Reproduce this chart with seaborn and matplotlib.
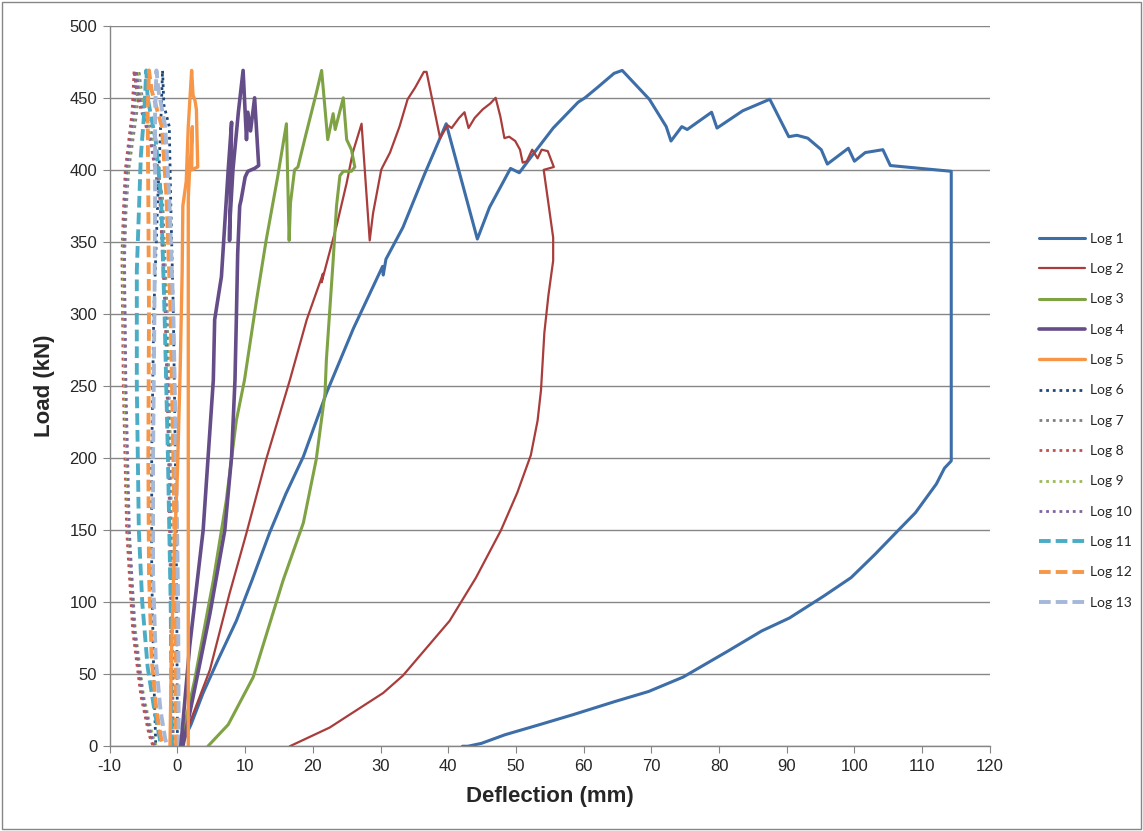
import pandas as pd
import seaborn as sns
import matplotlib.pyplot as plt
from matplotlib.patches import Rectangle
plt.switch_backend('agg')

# deflection (mm) / load (kN)
log1_x = [0.5, 2.0, 3.8, 6.0, 8.7, 11.0, 13.6, 16.0, 18.6, 22.0, 26.0, 30.3, 30.4, 30.8, 33.3, 36.5, 39.7,
          44.3, 46.1, 49.2, 50.5, 52.4, 55.5, 59.2, 60.2, 62.0, 64.5, 65.7, 69.7, 72.2, 72.9, 74.5, 75.3,
          78.9, 79.7, 83.5, 87.5, 90.3, 91.5, 93.1, 95.1, 96.0, 99.1, 100.0, 101.6, 104.2, 105.3, 114.3,
          114.3, 113.3, 112.1, 109.0, 106.3, 103.0, 99.5, 95.4, 90.4, 86.3, 81.3, 74.7, 69.6, 64.6, 58.5,
          53.5, 48.4, 44.9, 42.9, 42.1]
log1_y = [0, 15, 37, 60, 87, 115, 148, 175, 201, 245, 290, 333, 327, 338, 360, 397, 432,
          352, 374, 401, 398, 410, 429, 447, 450, 457, 467, 469, 449, 430, 420, 430, 428,
          440, 429, 441, 449, 423, 424, 422, 414, 404, 415, 406, 412, 414, 403, 399,
          198, 193, 182, 162, 149, 133, 117, 104, 89, 80, 66, 48, 38, 31, 22,
          15, 8, 2, 0, 0]

log2_x = [0.6, 1.8, 4.8, 7.7, 10.2, 13.1, 16.6, 19.1, 21.5, 21.3, 23.5, 25.0, 25.9, 27.2, 28.4, 28.9,
          30.1, 30.3, 31.4, 32.8, 34.0, 35.1, 36.4, 36.8, 38.8, 39.9, 40.5, 41.6, 42.4, 43.0, 43.9, 45.1,
          46.2, 47.0, 47.7, 48.3, 49.0, 49.9, 50.6, 51.0, 51.6, 52.4, 53.2, 53.8, 54.7, 55.6, 54.1,
          54.7, 55.5, 55.5, 54.8, 54.2, 53.7, 53.2, 52.2, 50.2, 47.8, 44.1, 40.2, 33.3, 30.4, 22.5, 16.6]
log2_y = [0, 16, 53, 106, 148, 199, 254, 296, 328, 322, 361, 391, 412, 432, 351, 370,
          400, 402, 412, 430, 449, 457, 468, 468, 422, 431, 429, 436, 440, 429, 436, 442,
          446, 450, 437, 422, 423, 420, 414, 405, 406, 414, 408, 414, 413, 402, 400,
          380, 353, 337, 313, 287, 247, 226, 202, 176, 150, 117, 87, 49, 37, 13, 0]

log3_x = [0.7, 2.5, 5.3, 7.2, 8.7, 9.9, 11.7, 13.1, 14.8, 16.1, 16.5, 16.7, 17.3, 17.8, 19.0, 20.5,
          21.3, 22.2, 23.0, 23.3, 24.5, 25.0, 25.7, 26.2, 25.7, 24.5, 24.0, 23.5, 23.0, 22.0, 21.8,
          20.5, 18.6, 15.6, 11.2, 7.5, 4.5]
log3_y = [7, 45, 115, 170, 226, 254, 310, 351, 395, 432, 351, 377, 400, 402, 425, 453,
          469, 421, 439, 428, 450, 421, 414, 402, 399, 399, 396, 375, 337, 268, 245,
          199, 155, 115, 48, 15, 0]

log4_x = [0.5, 1.8, 3.8, 5.3, 5.5, 6.5, 7.5, 8.0, 7.7, 7.7, 8.2, 9.0, 9.7, 10.2, 10.4, 10.8, 11.4,
          12.0, 11.4, 10.4, 10.0, 9.4, 9.2, 8.9, 8.7, 8.5, 8.0, 7.0, 4.8, 2.3, 0.8]
log4_y = [0, 69, 150, 254, 296, 326, 400, 433, 351, 360, 400, 440, 469, 421, 440, 427, 450,
          403, 401, 399, 395, 379, 375, 342, 296, 254, 201, 150, 92, 34, 0]

log5_x = [-1.1, -0.9, -0.5, 0.0, 0.4, 0.7, 0.8, 1.3, 1.6, 2.1, 2.3, 2.6, 2.8, 3.0, 2.1, 2.2, 2.0,
          1.8, 1.6, 1.6, 1.6, 1.6]
log5_y = [0, 60, 130, 190, 260, 330, 375, 392, 430, 469, 452, 448, 442, 402, 400, 430, 412,
          400, 380, 245, 100, 0]

log6_x = [0.0, -0.1, -0.3, -0.6, -1.0, -1.2, -2.0, -2.2, -2.4, -2.9, -3.5, -3.8, -3.8, -3.5, -3.2]
log6_y = [0, 100, 200, 300, 380, 430, 445, 469, 440, 380, 300, 200, 120, 50, 0]

log7_x = [-0.6, -0.8, -1.0, -1.5, -2.2, -3.5, -5.2, -5.7, -6.0, -6.6, -7.2, -7.6, -7.8, -7.7, -7.3,
          -6.4, -5.2, -4.0, -3.4]
log7_y = [0, 100, 200, 300, 380, 420, 450, 469, 440, 420, 400, 370, 340, 250, 150, 80, 35, 8, 0]

log8_x = [-0.8, -1.0, -1.3, -1.8, -2.6, -4.0, -5.9, -6.4, -6.7, -7.2, -7.7, -8.0, -8.2, -8.0, -7.5,
          -6.6, -5.4, -4.2, -3.6]
log8_y = [0, 100, 200, 300, 380, 420, 450, 469, 440, 420, 400, 370, 340, 250, 150, 80, 35, 8, 0]

log9_x = [-0.7, -0.9, -1.1, -1.6, -2.4, -3.8, -5.4, -5.9, -6.3, -6.9, -7.4, -7.8, -8.0, -7.8, -7.2,
          -6.2, -5.0, -3.7, -3.1]
log9_y = [0, 100, 200, 300, 380, 420, 450, 469, 440, 420, 400, 370, 345, 250, 150, 80, 35, 8, 0]

log10_x = [-0.7, -0.9, -1.2, -1.7, -2.5, -3.9, -5.6, -6.1, -6.4, -7.0, -7.5, -7.8, -7.9, -7.6, -7.1,
           -6.3, -5.1, -3.9, -3.3]
log10_y = [0, 100, 200, 300, 380, 420, 450, 469, 440, 420, 400, 370, 350, 250, 150, 80, 35, 8, 0]

log11_x = [-0.8, -1.0, -1.4, -1.9, -2.4, -3.2, -4.4, -4.6, -4.9, -5.4, -5.7, -6.0, -6.0, -5.7, -5.2,
           -4.4, -3.4, -2.6, -2.4]
log11_y = [0, 100, 200, 300, 380, 420, 450, 469, 440, 410, 370, 330, 250, 150, 100, 55, 25, 5, 0]

log12_x = [-0.2, -0.3, -0.6, -1.0, -1.6, -2.3, -3.8, -4.2, -4.4, -4.3, -4.2, -4.3, -4.2, -3.8, -3.1,
           -2.4, -2.0]
log12_y = [0, 100, 200, 300, 380, 430, 455, 469, 440, 380, 300, 200, 120, 60, 25, 5, 0]

log13_x = [0.2, 0.1, -0.2, -0.6, -1.2, -1.8, -2.8, -3.1, -3.3, -3.3, -3.4, -3.6, -3.6, -3.2, -2.5,
           -1.8, -1.5]
log13_y = [0, 100, 200, 300, 380, 430, 455, 469, 440, 380, 300, 200, 120, 60, 25, 5, 0]

series_x = [log1_x, log2_x, log3_x, log4_x, log5_x, log6_x, log7_x, log8_x, log9_x, log10_x,
            log11_x, log12_x, log13_x]
series_y = [log1_y, log2_y, log3_y, log4_y, log5_y, log6_y, log7_y, log8_y, log9_y, log10_y,
            log11_y, log12_y, log13_y]
labels = ['Log %d' % (i + 1) for i in range(13)]

colors = ['#3D6EA8', '#A83D3B', '#7FA245', '#654D89', '#F79646', '#1F497D', '#7F7F7F',
          '#C0504D', '#9BBB59', '#8064A2', '#4BACC6', '#F79646', '#A5B8D8']
widths = [2.2, 1.6, 2.2, 2.6, 2.4, 2.0, 2.0, 2.0, 2.0, 2.0, 2.8, 2.8, 2.8]
dot = (0, (1, 1.4))
dash = (0, (3, 1.3))
styles = ['-'] * 5 + [dot] * 5 + [dash] * 3

sns.set_style('white')
plt.rcParams['font.family'] = ['Liberation Sans', 'DejaVu Sans']
plt.rcParams['axes.unicode_minus'] = False

fig = plt.figure(figsize=(11.43, 8.31), dpi=100)
ax = fig.add_axes([0.096, 0.102, 0.77, 0.867])

# draw the dotted/dashed logs first so the solid ones sit on top
order = list(range(5, 13)) + list(range(0, 5))
for i in order:
    df = pd.DataFrame({'x': series_x[i], 'y': series_y[i]})
    sns.lineplot(data=df, x='x', y='y', sort=False, estimator=None, ax=ax,
                 color=colors[i], lw=widths[i], linestyle=styles[i], label=labels[i])

ax.set_xlim(-10, 120)
ax.set_ylim(0, 500)
ax.set_xticks(range(-10, 121, 10))
ax.set_yticks(range(0, 501, 50))
ax.yaxis.grid(True, color='#868686', lw=1)
ax.xaxis.grid(False)
for s in ['top', 'right']:
    ax.spines[s].set_visible(False)
for s in ['left', 'bottom']:
    ax.spines[s].set_color('#868686')
    ax.spines[s].set_linewidth(1)
ax.tick_params(axis='both', direction='out', length=5, color='#868686', labelsize=12, pad=4)
ax.tick_params(axis='both', left=True, bottom=True)
ax.set_xlabel('Deflection (mm)', fontsize=16, fontweight='bold', labelpad=9)
ax.set_ylabel('Load (kN)', fontsize=16, fontweight='bold', labelpad=10)

h, l = ax.get_legend_handles_labels()
hl = dict(zip(l, h))
ax.get_legend().remove()
fig.legend([hl[k] for k in labels], labels, loc='upper left', bbox_to_anchor=(0.898, 0.735),
           frameon=False, labelspacing=1.32, handlelength=3.3, handletextpad=0.4,
           prop={'family': 'Lato', 'size': 10})

fig.add_artist(Rectangle((0.002, 0.002), 0.996, 0.996, transform=fig.transFigure,
                         fill=False, edgecolor='#868686', lw=1))

plt.savefig('out.png', dpi=100)
